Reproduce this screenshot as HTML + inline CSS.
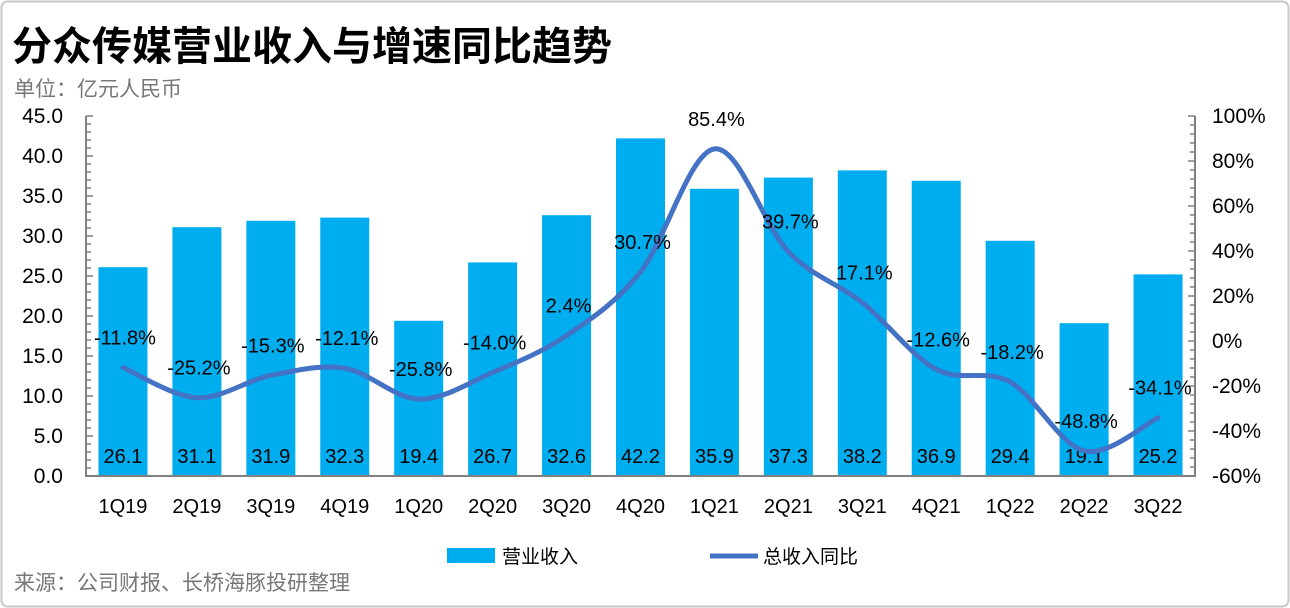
<!DOCTYPE html>
<html><head><meta charset="utf-8"><style>
body{margin:0;background:#fff;}
svg{display:block;font-family:"Liberation Sans","Noto Sans CJK SC",sans-serif;}
</style></head><body>
<svg id="c" width="1290" height="608" viewBox="0 0 1290 608">
<rect x="1.5" y="1.5" width="1287" height="605" rx="6" fill="#fff" stroke="#c8c8c8" stroke-width="2"/>
<text x="12" y="60" font-size="40" font-weight="bold" fill="#000" font-family="'Noto Sans CJK SC',sans-serif">分众传媒营业收入与增速同比趋势</text>
<text x="14" y="96" font-size="21" fill="#777" font-family="'Noto Sans CJK SC',sans-serif">单位：亿元人民币</text>
<g id="plot"></g>
<g>
<rect x="447" y="548" width="48" height="15" fill="#00adef"/>
<text x="502" y="563" font-size="19" font-family="'Noto Sans CJK SC',sans-serif">营业收入</text>
<line x1="710" y1="556" x2="758" y2="556" stroke="#4472c4" stroke-width="5"/>
<text x="763" y="563" font-size="19" font-family="'Noto Sans CJK SC',sans-serif">总收入同比</text>
</g>
<text x="14" y="590" font-size="21" fill="#777" font-family="'Noto Sans CJK SC',sans-serif">来源：公司财报、长桥海豚投研整理</text>
</svg>
<script>
const categories=["1Q19","2Q19","3Q19","4Q19","1Q20","2Q20","3Q20","4Q20","1Q21","2Q21","3Q21","4Q21","1Q22","2Q22","3Q22"];
const revenue=[26.1,31.1,31.9,32.3,19.4,26.7,32.6,42.2,35.9,37.3,38.2,36.9,29.4,19.1,25.2];
const growth=[-11.8,-25.2,-15.3,-12.1,-25.8,-14.0,2.4,30.7,85.4,39.7,17.1,-12.6,-18.2,-48.8,-34.1];
const leftTicks=[0,5,10,15,20,25,30,35,40,45];
const rightTicks=[-60,-40,-20,0,20,40,60,80,100];
const NS="http://www.w3.org/2000/svg";
const g=document.getElementById('plot');
const X0=86,X1=1195,Y0=476,Y1=116;
const step=(X1-X0)/categories.length;
const x=i=>X0+step*(i+0.5);
const yL=v=>Y0-(v-0)/(45-0)*(Y0-Y1);
const yR=v=>Y0-(v+60)/160*(Y0-Y1);
function el(t,a,txt){const e=document.createElementNS(NS,t);for(const k in a)e.setAttribute(k,a[k]);if(txt!==undefined)e.textContent=txt;g.appendChild(e);return e;}
revenue.forEach((v,i)=>{
 const b=el('rect',{x:x(i)-24.5,y:yL(v),width:49,height:Y0-yL(v),fill:'#00adef'});
 
 
 const t=el('text',{x:x(i),y:463,'font-size':20,'text-anchor':'middle',fill:'#000'},v.toFixed(1));
 
 
 const c=el('text',{x:x(i),y:513,'font-size':20,'text-anchor':'middle',fill:'#000'},categories[i]);
 
 
});
const la=el('path',{d:`M${X0},${Y1}V${Y0}H${X1}V${Y1}`,stroke:'#808080','stroke-width':2,fill:'none'});


for(let v=0;v<=45;v++){const t=el('line',{x1:X0,x2:X0+(v%5?5:7),y1:yL(v),y2:yL(v),stroke:'#808080','stroke-width':1.5});
 
 }
for(let v=-60;v<=100;v+=4){const t=el('line',{x1:X1,x2:X1-(v%20?5:7),y1:yR(v),y2:yR(v),stroke:'#808080','stroke-width':1.5});
 
 }
leftTicks.forEach(v=>{const t=el('text',{x:63,y:yL(v)+7,'font-size':21,'text-anchor':'end'},v.toFixed(1));
 
 });
rightTicks.forEach(v=>{const t=el('text',{x:1212,y:yR(v)+7,'font-size':21},v+'%');
 
 });
const pts=growth.map((v,i)=>[x(i),yR(v)]);
let d=`M${pts[0][0]},${pts[0][1]}`;
for(let i=0;i<pts.length-1;i++){
 const p0=pts[i-1]||pts[i],p1=pts[i],p2=pts[i+1],p3=pts[i+2]||p2,k=1/6;
 d+=`C${p1[0]+(p2[0]-p0[0])*k},${p1[1]+(p2[1]-p0[1])*k} ${p2[0]-(p3[0]-p1[0])*k},${p2[1]-(p3[1]-p1[1])*k} ${p2[0]},${p2[1]}`;
}
const ln=el('path',{d:d,stroke:'#4472c4','stroke-width':5,fill:'none','stroke-linecap':'round'});


growth.forEach((v,i)=>{
 const t=el('text',{x:x(i)+2,y:yR(v)-23,'font-size':20,'text-anchor':'middle',fill:'#000'},v.toFixed(1)+'%');
 
 
});
</script>
</body></html>
